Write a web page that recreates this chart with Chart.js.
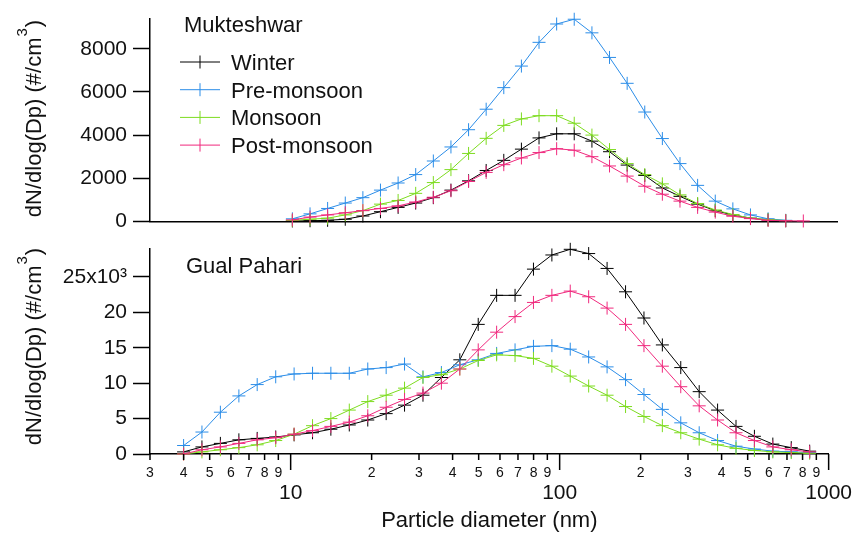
<!DOCTYPE html>
<html>
<head>
<meta charset="utf-8">
<script src="https://cdn.jsdelivr.net/npm/chart.js@4.4.1/dist/chart.umd.min.js"></script>
<style>
    body { margin: 0; background: #fff; }
    #wrap { position: relative; width: 863px; height: 536px; }
    canvas { position: absolute; left: 0; }
</style>
</head>
<body>
<div id="wrap">
    <canvas id="chartTop" width="863" height="240" style="top:0px"></canvas>
    <canvas id="chartBot" width="863" height="306" style="top:230px"></canvas>
</div>
<script>
// Mukteshwar - diametros (nm) y dN/dlogDp (#/cm3)
const diamTop = [10.0, 11.61, 13.47, 15.64, 18.15, 21.06, 24.45, 28.37, 32.93, 38.22, 44.36, 51.48, 59.75, 69.35, 80.49,
    93.43, 108.4, 125.9, 146.1, 169.6, 196.8, 228.4, 265.1, 307.7, 357.2, 414.5, 481.1, 558.4, 648.1, 752.2];
const winterTop = [20, 30, 50, 100, 250, 450, 650, 850, 1100, 1450, 1880, 2360, 2830, 3350, 3870,
    4060, 4060, 3720, 3230, 2610, 2130, 1550, 1160, 800, 500, 300, 150, 70, 30, null];
const preTop = [120, 350, 600, 850, 1100, 1450, 1780, 2170, 2800, 3450, 4250, 5200, 6200, 7200, 8300,
    9150, 9370, 8740, 7600, 6400, 5070, 3840, 2680, 1670, 940, 580, 300, 120, 50, null];
const monTop = [50, 100, 150, 300, 500, 800, 970, 1300, 1800, 2400, 3150, 3850, 4450, 4750, 4900,
    4900, 4550, 4000, 3330, 2680, 2170, 1740, 1230, 830, 530, 320, 150, 80, 40, null];
const postTop = [70, 200, 300, 400, 500, 600, 720, 900, 1120, 1420, 1850, 2270, 2630, 2940, 3190,
    3370, 3300, 3000, 2570, 2100, 1630, 1260, 940, 650, 430, 240, 130, 50, 30, 20];

// Gual Pahari
const diamBot = [4.00, 4.68, 5.48, 6.42, 7.51, 8.80, 10.30, 12.06, 14.11, 16.52, 19.35, 22.65, 26.51, 31.04, 36.34,
    42.55, 49.81, 58.31, 68.27, 79.92, 93.57, 109.5, 128.2, 150.1, 175.8, 205.8, 240.9, 282.0, 330.2, 386.5,
    452.5, 529.7, 620.2, 726.1, 850.0];
const winterBot = [300, 1000, 1500, 2000, 2200, 2400, 2700, 3000, 3500, 4100, 4800, 5700, 6900, 8300, 10800,
    13300, 18300, 22400, 22400, 26100, 28100, 28900, 28300, 26200, 22900, 19200, 15400, 12200, 8800, 6200,
    3900, 2500, 1400, 900, 400];
const preBot = [1200, 3100, 5900, 8200, 9800, 10900, 11300, 11400, 11400, 11400, 12000, 12200, 12700, 10900, 11500,
    12600, 13300, 14200, 14700, 15200, 15300, 14800, 13700, 12300, 10500, 8400, 6300, 4400, 3000, 1900,
    1100, 700, 400, 300, 200];
const monBot = [0, 300, 600, 900, 1300, 1900, 2800, 4000, 5000, 6200, 7400, 8300, 9300, 10800, 11200,
    12000, 13200, 14000, 13900, 13500, 12400, 11000, 9600, 8300, 6700, 5300, 4000, 3000, 2100, 1300,
    800, 500, 300, 200, 100];
const postBot = [0, 600, 1000, 1500, 2000, 2300, 2800, 3300, 3900, 4500, 5400, 6600, 7700, 8600, 10000,
    12000, 14700, 17200, 19400, 21400, 22400, 23000, 22200, 20600, 18300, 15300, 12400, 9500, 6800, 4800,
    3000, 1900, 1000, 600, 300];

const estaciones = ['Winter', 'Pre-monsoon', 'Monsoon', 'Post-monsoon'];
const colores = ['#000000', '#2b8de8', '#7ddc1f', '#f0287d'];

const xTicks = [3, 4, 5, 6, 7, 8, 9, 10, 20, 30, 40, 50, 60, 70, 80, 90, 100,
    200, 300, 400, 500, 600, 700, 800, 900, 1000];
const xMajor = [10, 100, 1000];
const yTicksTop = [0, 2000, 4000, 6000, 8000];
const yTicksBot = [0, 5000, 10000, 15000, 20000, 25000];

const FONT = '"Liberation Sans", Arial, sans-serif';
Chart.defaults.font.family = FONT;
Chart.defaults.color = '#000';

function puntos(diam, vals) {
    return diam.map((d, i) => ({ x: d, y: vals[i] }));
}

function makeDatasets(diam, series) {
    return series.map((vals, i) => ({
        label: estaciones[i],
        data: puntos(diam, vals),
        borderColor: colores[i],
        backgroundColor: colores[i],
        borderWidth: 1,
        pointStyle: 'cross',
        pointRadius: 6.5,
        pointHoverRadius: 6.5,
        pointBorderWidth: 1,
        tension: 0,
        fill: false,
        clip: false,
        order: 3 - i   // post-monsoon arriba
    }));
}

function drawYTitle(ctx, cx, cy) {
    ctx.save();
    ctx.translate(cx, cy);
    ctx.rotate(-Math.PI / 2);
    ctx.fillStyle = '#111';
    ctx.textAlign = 'left';
    ctx.textBaseline = 'alphabetic';
    const a = 'dN/dlog(Dp) (#/cm', b = ')';
    ctx.font = '22px ' + FONT;
    const wa = ctx.measureText(a).width, wb = ctx.measureText(b).width;
    ctx.font = '15px ' + FONT;
    const ws = ctx.measureText('3').width;
    const start = -(wa + ws + wb + 2) / 2;
    ctx.font = '22px ' + FONT;
    ctx.fillText(a, start, 0);
    ctx.font = '15px ' + FONT;
    ctx.fillText('3', start + wa + 1, -14);
    ctx.font = '22px ' + FONT;
    ctx.fillText(b, start + wa + ws + 2, 0);
    ctx.restore();
}

function xScale(showTicks, height) {
    return {
        type: 'logarithmic',
        min: 3,
        max: 1000,
        afterBuildTicks: s => { s.ticks = xTicks.map(v => ({ value: v, major: xMajor.includes(v) })); },
        afterFit: s => { s.height = height; },
        grid: { drawOnChartArea: false, drawTicks: false },
        border: { color: '#000', width: 1.5 },
        title: {
            display: showTicks,
            text: 'Particle diameter (nm)',
            font: { size: 22 },
            color: '#111',
            padding: { top: 0, bottom: 2 }
        },
        ticks: {
            display: showTicks,
            autoSkip: false,
            maxRotation: 0,
            minRotation: 0,
            padding: 11,
            color: '#111',
            font: ctx => (ctx.tick && xMajor.includes(ctx.tick.value))
                ? { size: 21, lineHeight: 0.9 }
                : { size: 14 },
            callback: v => xMajor.includes(v) ? ['', String(v)] : String(v).charAt(0)
        }
    };
}

function yScale(max, tickVals, cb) {
    return {
        min: 0,
        max: max,
        afterBuildTicks: s => { s.ticks = tickVals.map(v => ({ value: v })); },
        afterFit: s => { s.width = 150; },
        grid: { drawOnChartArea: false, drawTicks: true, tickLength: 17, tickColor: '#000', tickWidth: 1.5 },
        border: { color: '#000', width: 1.5 },
        ticks: {
            padding: 6,
            color: '#111',
            font: { size: 21 },
            callback: cb
        }
    };
}

// Panel superior: Mukteshwar
new Chart(document.getElementById('chartTop').getContext('2d'), {
    type: 'line',
    data: { datasets: makeDatasets(diamTop, [winterTop, preTop, monTop, postTop]) },
    options: {
        responsive: false,
        devicePixelRatio: 1,
        animation: false,
        layout: { padding: { top: 13, right: 26, left: 0, bottom: 0 } },
        scales: {
            x: xScale(false, 12),
            y: yScale(9400, yTicksTop, v => String(v))
        },
        plugins: { legend: { display: false }, tooltip: { enabled: false } }
    },
    plugins: [{
        id: 'extrasTop',
        afterDraw(chart) {
            const ctx = chart.ctx;
            ctx.save();
            ctx.fillStyle = '#111';
            ctx.font = '22px ' + FONT;
            ctx.textBaseline = 'alphabetic';
            ctx.fillText('Mukteshwar', 184, 31.5);
            chart.data.datasets.forEach((ds, i) => {
                const base = 70 + i * 27.7;
                const ly = base - 8;
                ctx.strokeStyle = ds.borderColor;
                ctx.lineWidth = 1;
                ctx.beginPath();
                ctx.moveTo(180, ly); ctx.lineTo(220, ly);
                ctx.moveTo(200, ly - 6.5); ctx.lineTo(200, ly + 6.5);
                ctx.stroke();
                ctx.fillStyle = '#111';
                ctx.fillText(ds.label, 231, base);
            });
            ctx.restore();
            drawYTitle(ctx, 41, 118.5);
        }
    }]
});

// Panel inferior: Gual Pahari
new Chart(document.getElementById('chartBot').getContext('2d'), {
    type: 'line',
    data: { datasets: makeDatasets(diamBot, [winterBot, preBot, monBot, postBot]) },
    options: {
        responsive: false,
        devicePixelRatio: 1,
        animation: false,
        layout: { padding: { top: 9, right: 26, left: 0, bottom: 0 } },
        scales: {
            x: xScale(true, 82),
            y: yScale(29000, yTicksBot, v => v === 25000 ? '25x10³' : String(v / 1000))
        },
        plugins: { legend: { display: false }, tooltip: { enabled: false } }
    },
    plugins: [{
        id: 'extrasBot',
        afterDraw(chart) {
            const ctx = chart.ctx;
            const xs = chart.scales.x;
            const y0 = chart.chartArea.bottom;
            ctx.save();
            ctx.strokeStyle = '#000';
            ctx.lineWidth = 1.5;
            xTicks.forEach(v => {
                const px = xs.getPixelForValue(v);
                const len = xMajor.includes(v) ? 16 : 6;
                ctx.beginPath();
                ctx.moveTo(px, y0);
                ctx.lineTo(px, y0 + len);
                ctx.stroke();
            });
            ctx.fillStyle = '#111';
            ctx.font = '22px ' + FONT;
            ctx.textBaseline = 'alphabetic';
            ctx.fillText('Gual Pahari', 186, 43);
            ctx.restore();
            drawYTitle(ctx, 41, 116.5);
        }
    }]
});
</script>
</body>
</html>
